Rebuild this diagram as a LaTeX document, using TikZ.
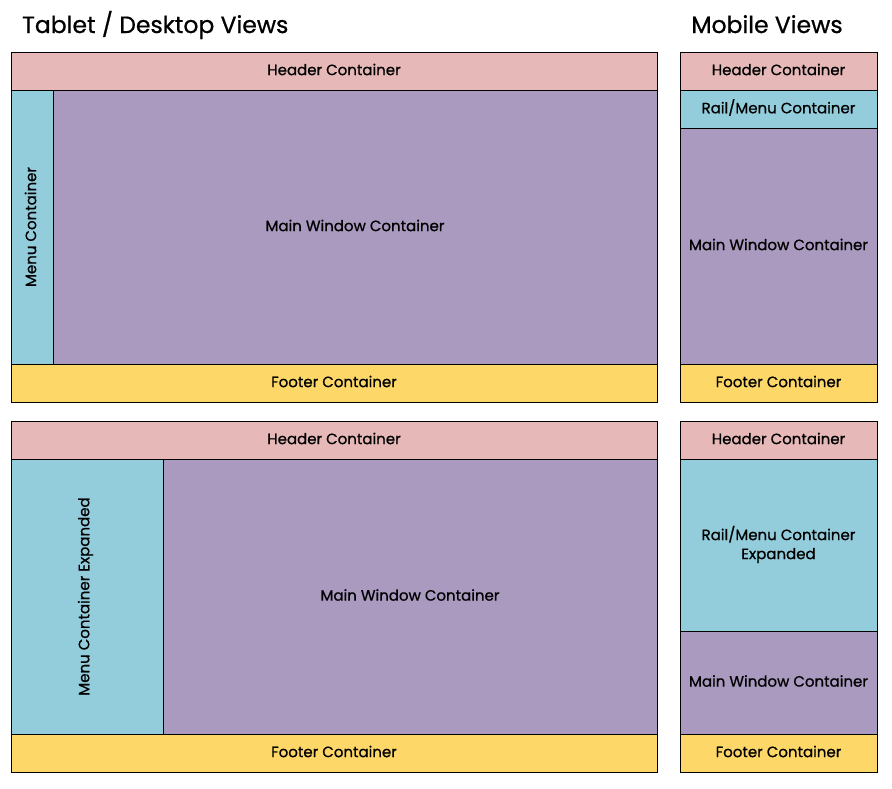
\documentclass[tikz,border=0pt]{standalone}
\usepackage{fontspec}
\setmainfont{Poppins}[FakeBold=0.8]
\definecolor{hdr}{HTML}{E6B9B8}
\definecolor{menu}{HTML}{93CDDC}
\definecolor{mainw}{HTML}{AA9ABF}
\definecolor{ftr}{HTML}{FDD868}
\begin{document}
\begin{tikzpicture}[x=1pt,y=-1pt,
  box/.style={draw=black,line width=1pt,anchor=north west,inner sep=0pt,outer sep=0pt},
  lbl/.style={font=\fontsize{15}{18}\selectfont,align=center,inner sep=0pt},
  title/.style={font=\fontsize{23.5}{28}\selectfont,anchor=base,inner sep=0pt}]
\useasboundingbox (0,0) rectangle (892,788);
\newcommand{\bx}[7]{% name, x, y, w, h, color, text
  \node[box,fill=#6,minimum width=#4pt,minimum height=#5pt] (#1) at (#2,#3) {};
  \node[lbl] (#1t) at ([yshift=1.5pt]#1.center) {#7};}
\node[title,anchor=base west] (t1) at (22,33) {Tablet / Desktop Views};
\node[title] (t2) at (767,33) {Mobile Views};
% top desktop
\bx{h1}{11}{52}{646}{38}{hdr}{Header Container}
\bx{m1}{11}{90}{42}{274}{menu}{}
\bx{w1}{53}{90}{604}{274}{mainw}{Main Window Container}
\bx{f1}{11}{364}{646}{38}{ftr}{Footer Container}
\node[lbl,rotate=90] (m1t) at ([xshift=-1.5pt]m1.center) {Menu Container};
% top mobile
\bx{h2}{680}{52}{197}{38}{hdr}{Header Container}
\bx{r2}{680}{90}{197}{38}{menu}{Rail/Menu Container}
\bx{w2}{680}{128}{197}{236}{mainw}{Main Window Container}
\bx{f2}{680}{364}{197}{38}{ftr}{Footer Container}
% bottom desktop
\bx{h3}{11}{421}{646}{38}{hdr}{Header Container}
\bx{m3}{11}{459}{152}{275}{menu}{}
\bx{w3}{163}{459}{494}{275}{mainw}{Main Window Container}
\bx{f3}{11}{734}{646}{38}{ftr}{Footer Container}
\node[lbl,rotate=90] (m3t) at ([xshift=-1.5pt]m3.center) {Menu Container Expanded};
% bottom mobile
\bx{h4}{680}{421}{197}{38}{hdr}{Header Container}
\bx{r4}{680}{459}{197}{172}{menu}{}
\bx{w4}{680}{631}{197}{103}{mainw}{Main Window Container}
\bx{f4}{680}{734}{197}{38}{ftr}{Footer Container}
\node[lbl,font=\fontsize{15}{19}\selectfont] (r4t) at ([yshift=0.5pt]r4.center) {Rail/Menu Container\\Expanded};
\end{tikzpicture}
\end{document}
